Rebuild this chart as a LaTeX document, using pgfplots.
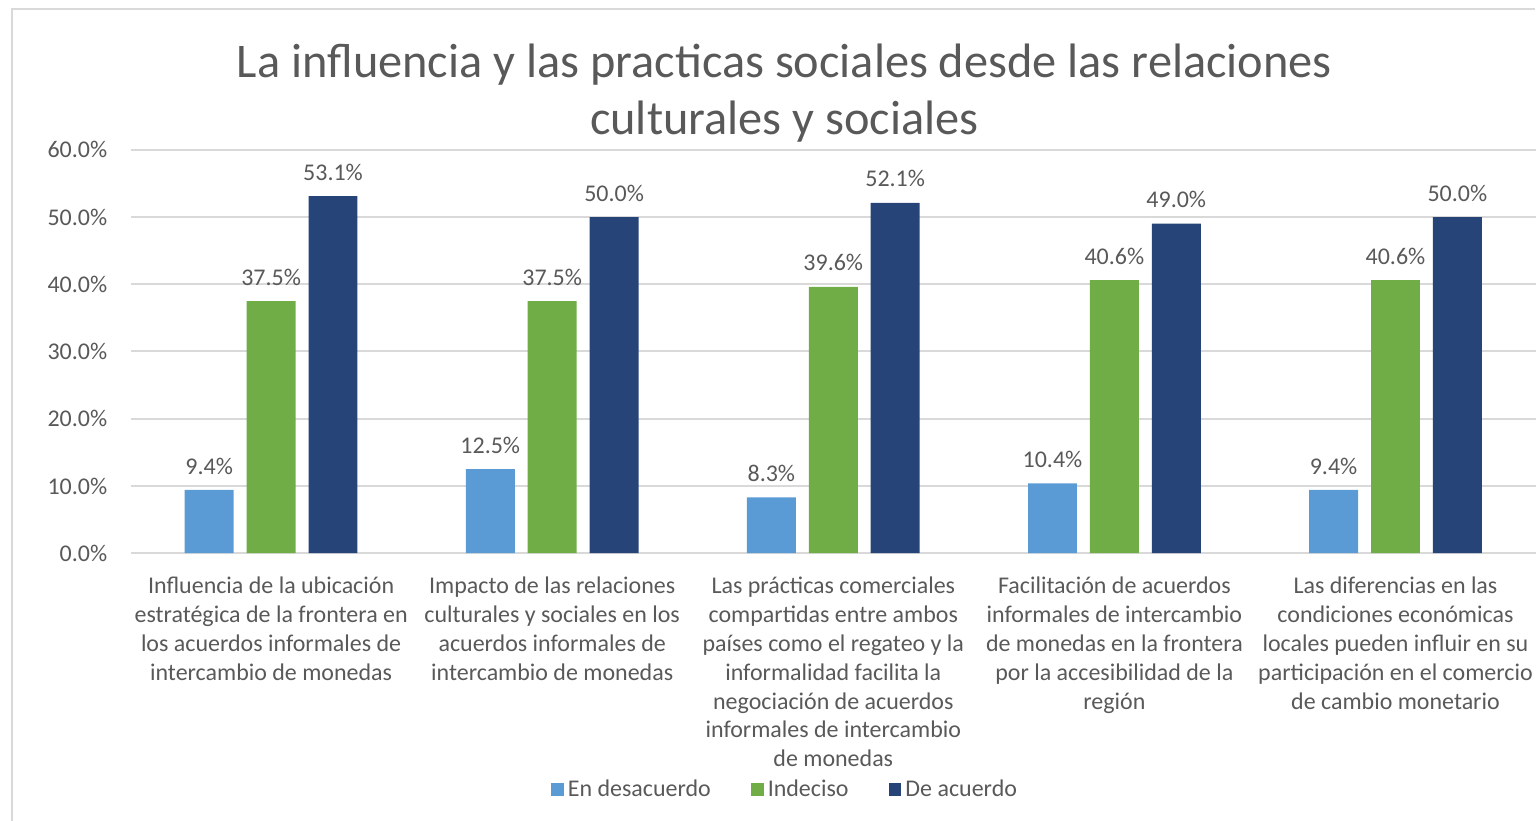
\documentclass[border=0pt]{standalone}
\usepackage{pgfplots}
\pgfplotsset{compat=1.18}
\usepackage{fontspec}
\setmainfont{Carlito}
\definecolor{cA}{HTML}{5B9BD5}
\definecolor{cB}{HTML}{70AD47}
\definecolor{cC}{HTML}{264478}
\definecolor{gridc}{HTML}{D9D9D9}
\definecolor{txt}{HTML}{595959}
\begin{document}
\begin{tikzpicture}
\begin{scope}[x=0.5pt,y=0.5pt]
\path[use as bounding box] (0,0) rectangle (1537,822);
\draw[color=gridc, line width=1pt] (12.5,0) -- (12.5,812.5) -- (1537,812.5);
\node[anchor=base, text=txt, font=\fontsize{24.2}{28}\selectfont, inner sep=0pt] at (785.5,744) {La influencia y las practicas sociales desde las relaciones};
\node[anchor=base, text=txt, font=\fontsize{24.2}{28}\selectfont, inner sep=0pt] at (785.5,687) {culturales y sociales};
\end{scope}
\begin{axis}[
  at={(65.375pt,134pt)}, anchor=south west,
  width=703.75pt, height=202pt, scale only axis,
  xmin=-0.5, xmax=4.5, ymin=0, ymax=60,
  ybar=6.5pt, bar width=24.5pt,
  axis line style={draw=none},
  major tick length=0pt,
  ymajorgrids, grid style={color=gridc, line width=1pt},
  ytick={0,10,20,30,40,50,60},
  yticklabel={\pgfmathprintnumber[fixed,fixed zerofill,precision=1]{\tick}\%},
  /pgf/number format/assume math mode=true,
  yticklabel style={text=txt, font=\fontsize{12}{14}\selectfont, inner sep=0pt, anchor=east, xshift=-11.5pt},
  xtick=data,
  xticklabels={
    {Influencia de la ubicación\\estratégica de la frontera en\\los acuerdos informales de\\intercambio de monedas},
    {Impacto de las relaciones\\culturales y sociales en los\\acuerdos informales de\\intercambio de monedas},
    {Las prácticas comerciales\\compartidas entre ambos\\países como el regateo y la\\informalidad facilita la\\negociación de acuerdos\\informales de intercambio\\de monedas},
    {Facilitación de acuerdos\\informales de intercambio\\de monedas en la frontera\\por la accesibilidad de la\\región},
    {Las diferencias en las\\condiciones económicas\\locales pueden influir en su\\participación en el comercio\\de cambio monetario}},
  xticklabel style={text=txt, font=\fontsize{12}{14.5}\selectfont, align=center, inner sep=0pt, anchor=north, yshift=-11.5pt},
  nodes near coords={\pgfmathprintnumber[fixed,fixed zerofill,precision=1]{\pgfplotspointmeta}\%},
  nodes near coords style={text=txt, font=\fontsize{12}{14}\selectfont, inner sep=0pt, anchor=base, yshift=8pt},
  clip=false,
  legend columns=3,
  legend style={at={(0.4663,-0.585)}, anchor=center, draw=none, fill=none,
     font=\fontsize{12}{14}\selectfont, text=txt,
     /tikz/every even column/.append style={column sep=18pt}},
  legend image code/.code={\path[#1, draw=none] (0pt,-3.25pt) rectangle (6.5pt,3.25pt);},
]
\addplot[fill=cA, draw=none] coordinates {(0,9.4) (1,12.5) (2,8.3) (3,10.4) (4,9.4)};
\addplot[fill=cB, draw=none] coordinates {(0,37.5) (1,37.5) (2,39.6) (3,40.6) (4,40.6)};
\addplot[fill=cC, draw=none] coordinates {(0,53.1) (1,50.0) (2,52.1) (3,49.0) (4,50.0)};
\legend{En desacuerdo, Indeciso, De acuerdo}
\end{axis}
\end{tikzpicture}
\end{document}
